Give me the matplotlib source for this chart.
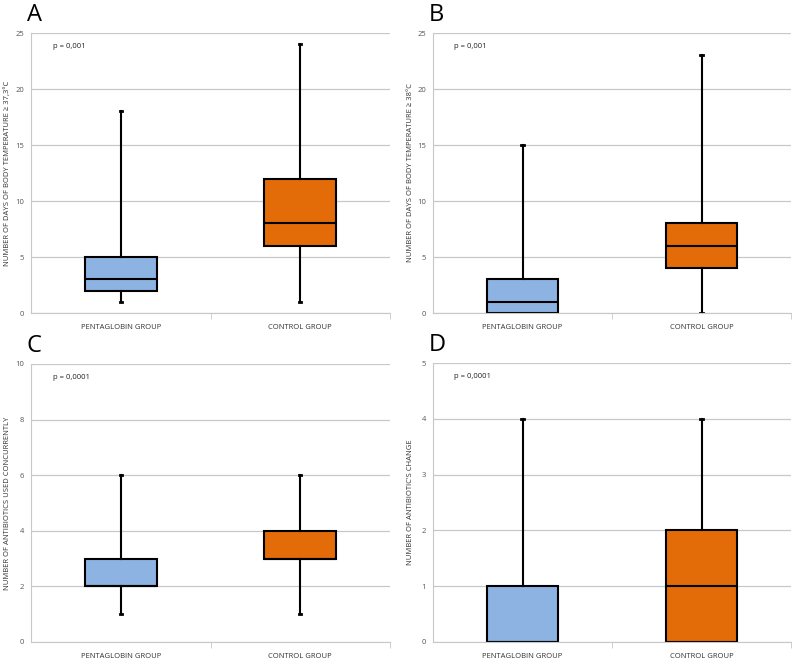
import numpy as np
import matplotlib.pyplot as plt

plt.rcParams['font.family'] = ['Open Sans', 'DejaVu Sans']

groups = ['PENTAGLOBIN GROUP', 'CONTROL GROUP']
colors = ['#8db3e2', '#e36c09']

# whislo, q1, med, q3, whishi per group
a_stats = [[1, 2, 3, 5, 18], [1, 6, 8, 12, 24]]
b_stats = [[0, 0, 1, 3, 15], [0, 4, 6, 8, 23]]
c_stats = [[1, 2, 2, 3, 6], [1, 3, 3, 4, 6]]
d_stats = [[0, 0, 0, 1, 4], [0, 0, 1, 2, 4]]

panels = [
    ('A', a_stats, 25, 5, 'NUMBER OF DAYS OF BODY TEMPERATURE \u2265 37,3\u00b0C', 'p = 0,001'),
    ('B', b_stats, 25, 5, 'NUMBER OF DAYS OF BODY TEMPERATURE \u2265 38\u00b0C', 'p = 0,001'),
    ('C', c_stats, 10, 2, 'NUMBER OF ANTIBIOTICS USED CONCURRENTLY', 'p = 0,0001'),
    ('D', d_stats, 5, 1, "NUMBER OF ANTIBIOTIC'S CHANGE", 'p = 0,0001'),
]

W, H = 798, 664
# pixel boxes: left, top, right, bottom
boxes = [(31, 33, 390, 313), (433, 33, 791, 313),
         (31, 364, 390, 642), (433, 363, 791, 642)]

fig = plt.figure(figsize=(W / 100, H / 100), dpi=100)

for (letter, stats, ymax, step, ylabel, ptext), (l, t, r, b) in zip(panels, boxes):
    ax = fig.add_axes([l / W, 1 - b / H, (r - l) / W, (b - t) / H])
    bxp = []
    for s in stats:
        bxp.append(dict(whislo=s[0], q1=s[1], med=s[2], q3=s[3], whishi=s[4], fliers=[]))
    art = ax.bxp(bxp, positions=[0.5, 1.5], widths=0.4, patch_artist=True,
                 showfliers=False,
                 boxprops=dict(linewidth=1.5, edgecolor='black'),
                 medianprops=dict(color='black', linewidth=1.5),
                 whiskerprops=dict(color='black', linewidth=1.5),
                 capprops=dict(color='black', linewidth=2), capwidths=0.012)
    for patch, c in zip(art['boxes'], colors):
        patch.set_facecolor(c)
    ax.set_xlim(0, 2)
    ax.set_ylim(0, ymax)
    ax.set_yticks(np.arange(0, ymax + step / 2, step))
    ax.yaxis.grid(True, color='#c8c8c8', linewidth=0.9)
    ax.set_axisbelow(True)
    ax.set_xticks([0.5, 1.5])
    ax.set_xticklabels(groups, fontsize=5.5, color='#333333')
    ax.set_xticks([1.0, 2.0], minor=True)
    ax.tick_params(axis='x', which='major', length=0, pad=8)
    ax.tick_params(axis='x', which='minor', length=4, color='#c8c8c8')
    ax.tick_params(axis='y', length=0, labelsize=5.5, labelcolor='#555555', pad=5)
    for sp in ['top', 'right']:
        ax.spines[sp].set_visible(False)
    ax.spines['left'].set_color('#c8c8c8')
    ax.spines['bottom'].set_color('#c8c8c8')
    ax.set_ylabel(ylabel, fontsize=5.5, color='#333333')
    ax.yaxis.set_label_coords((8 - l + (l - 31)) / (r - l) - 0.0, 0.5)
    ax.yaxis.label.set_verticalalignment('center')
    ax.text(0.06, 0.965, ptext, transform=ax.transAxes, fontsize=5.5,
            color='#222222', va='top')
    fig.text((l - 4) / W, 1 - (t - 18) / H, letter, fontsize=17, va='center',
             ha='left')

fig.savefig('out.png', dpi=100)
